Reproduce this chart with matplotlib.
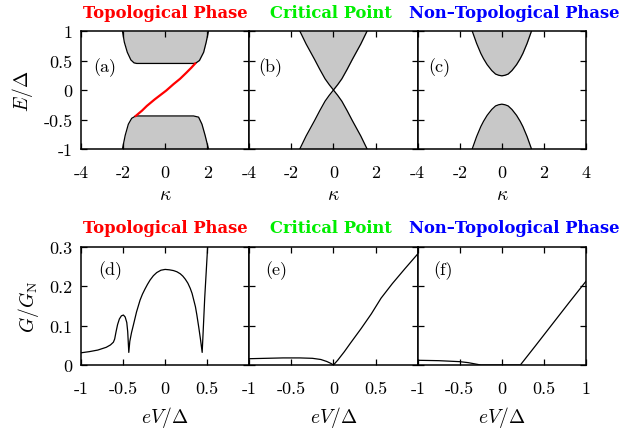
import matplotlib
matplotlib.use("Agg")
import matplotlib.pyplot as plt

plt.rcParams['font.family'] = ['cmr10', 'DejaVu Serif']
plt.rcParams['mathtext.fontset'] = 'cm'
plt.rcParams['axes.unicode_minus'] = False
plt.rcParams['axes.formatter.use_mathtext'] = True

# ---------------- data: band structures (top row) ----------------
kappa_ticks = [-4, -2, 0, 2, 4]
kappa_ticklabels = ['-4', '-2', '0', '2', '4']
E_ticks = [-1, -0.5, 0, 0.5, 1]
E_ticklabels = ['-1', '-0.5', '0', '0.5', '1']

# (a) topological phase
a_up_k = [-2.03, -1.94, -1.80, -1.63, -1.48, -1.35, 0.0, 1.43, 1.63, 1.83, 1.95, 2.06]
a_up_E = [1.00, 0.81, 0.64, 0.51, 0.46, 0.45, 0.45, 0.45, 0.50, 0.64, 0.81, 1.00]
a_lo_k = [-2.03, -1.90, -1.75, -1.59, -1.40, 0.0, 1.35, 1.59, 1.75, 1.90, 2.06]
a_lo_E = [-1.00, -0.77, -0.58, -0.48, -0.44, -0.44, -0.44, -0.46, -0.58, -0.77, -1.00]
edge_k = [-1.40, -1.10, -0.87, -0.50, 0.05, 0.40, 0.71, 1.00, 1.25, 1.43]
edge_E = [-0.44, -0.35, -0.27, -0.16, -0.01, 0.10, 0.19, 0.29, 0.38, 0.45]

# (b) critical point
b_k = [-1.60, -1.45, -1.30, -1.10, -0.90, -0.65, -0.40, -0.20, 0.0, 0.20, 0.40, 0.65, 0.90, 1.10, 1.30, 1.45, 1.60]
b_up_E = [1.00, 0.89, 0.78, 0.65, 0.52, 0.35, 0.19, 0.09, 0.0, 0.09, 0.19, 0.35, 0.52, 0.65, 0.78, 0.89, 1.00]
b_lo_E = [-1.00, -0.89, -0.78, -0.65, -0.52, -0.35, -0.19, -0.09, 0.0, -0.09, -0.19, -0.35, -0.52, -0.65, -0.78, -0.89, -1.00]

# (c) non-topological phase
c_k = [-1.41, -1.20, -1.00, -0.87, -0.70, -0.48, -0.30, -0.15, 0.0, 0.15, 0.30, 0.48, 0.70, 0.87, 1.00, 1.20, 1.41]
c_up_E = [1.00, 0.79, 0.62, 0.53, 0.43, 0.33, 0.27, 0.25, 0.24, 0.25, 0.27, 0.33, 0.43, 0.53, 0.62, 0.79, 1.00]
c_lo_E = [-1.00, -0.79, -0.62, -0.53, -0.43, -0.33, -0.27, -0.25, -0.24, -0.25, -0.27, -0.33, -0.43, -0.53, -0.62, -0.79, -1.00]

# ---------------- data: conductance (bottom row) ----------------
V_ticks = [-1, -0.5, 0, 0.5, 1]
V_ticklabels = ['-1', '-0.5', '0', '0.5', '1']
G_ticks = [0, 0.1, 0.2, 0.3]
G_ticklabels = ['0', '0.1', '0.2', '0.3']

d_V = [-1.0, -0.9, -0.8, -0.7, -0.65, -0.615, -0.60, -0.583, -0.565, -0.544, -0.52, -0.496,
       -0.475, -0.456, -0.445, -0.432, -0.42, -0.40, -0.377, -0.34, -0.298, -0.27, -0.24,
       -0.21, -0.179, -0.14, -0.10, -0.05, 0.0, 0.05, 0.10, 0.14, 0.179, 0.21, 0.24, 0.27,
       0.298, 0.32, 0.34, 0.36, 0.377, 0.40, 0.42, 0.44, 0.455, 0.47, 0.488, 0.51]
d_G = [0.031, 0.034, 0.038, 0.045, 0.051, 0.058, 0.066, 0.085, 0.103, 0.117, 0.125, 0.127,
       0.122, 0.108, 0.085, 0.032, 0.060, 0.082, 0.102, 0.135, 0.165, 0.180, 0.193,
       0.205, 0.216, 0.227, 0.235, 0.241, 0.243, 0.242, 0.240, 0.237, 0.232, 0.226, 0.218,
       0.208, 0.195, 0.182, 0.165, 0.148, 0.127, 0.095, 0.065, 0.032, 0.100, 0.170, 0.237,
       0.320]

e_V = [-1.0, -0.8, -0.6, -0.4, -0.25, -0.15, -0.08, -0.03, 0.0, 0.05, 0.13, 0.20, 0.33,
       0.45, 0.566, 0.70, 0.85, 1.0]
e_G = [0.016, 0.017, 0.018, 0.018, 0.017, 0.014, 0.009, 0.004, 0.0, 0.012, 0.034, 0.055,
       0.093, 0.130, 0.170, 0.207, 0.245, 0.282]

f_V = [-1.0, -0.75, -0.50, -0.40, -0.30, -0.25, 0.22, 0.40, 0.60, 0.80, 1.0]
f_G = [0.012, 0.011, 0.0085, 0.006, 0.002, 0.0, 0.0, 0.049, 0.104, 0.159, 0.213]

titles = ['Topological Phase', 'Critical Point', 'Non\u2013Topological Phase']
title_colors = ['#ff0000', '#00ee00', '#0000ff']
panel_top = ['(a)', '(b)', '(c)']
panel_bot = ['(d)', '(e)', '(f)']

# ---------------- layout ----------------
W, H = 628, 435
fig = plt.figure(figsize=(W / 100, H / 100), dpi=100)

lefts = [81, 249.3, 417.7]
aw = 168.3
top_y0, top_h = 150, 118
bot_y0, bot_h = 366, 118

gray = '#c8c8c8'
lw = 0.9

def style(ax):
    for s in ax.spines.values():
        s.set_linewidth(1.1)
    ax.tick_params(direction='in', top=True, right=True, length=4, width=0.9,
                   labelsize=13)

top_axes, bot_axes = [], []
for i in range(3):
    ax = fig.add_axes([lefts[i] / W, 1 - top_y0 / H, aw / W, top_h / H])
    top_axes.append(ax)
    ax2 = fig.add_axes([lefts[i] / W, 1 - bot_y0 / H, aw / W, bot_h / H])
    bot_axes.append(ax2)

# top row
ax = top_axes[0]
ax.fill_between(a_up_k, a_up_E, 1.0, color=gray, lw=0)
ax.plot(a_up_k, a_up_E, color='k', lw=lw)
ax.fill_between(a_lo_k, -1.0, a_lo_E, color=gray, lw=0)
ax.plot(a_lo_k, a_lo_E, color='k', lw=lw)
ax.plot(edge_k, edge_E, color='#ff0000', lw=1.6)

ax = top_axes[1]
ax.fill_between(b_k, b_up_E, 1.0, color=gray, lw=0)
ax.plot(b_k, b_up_E, color='k', lw=lw)
ax.fill_between(b_k, -1.0, b_lo_E, color=gray, lw=0)
ax.plot(b_k, b_lo_E, color='k', lw=lw)

ax = top_axes[2]
ax.fill_between(c_k, c_up_E, 1.0, color=gray, lw=0)
ax.plot(c_k, c_up_E, color='k', lw=lw)
ax.fill_between(c_k, -1.0, c_lo_E, color=gray, lw=0)
ax.plot(c_k, c_lo_E, color='k', lw=lw)

for i, ax in enumerate(top_axes):
    ax.set_xlim(-4, 4)
    ax.set_ylim(-1, 1)
    style(ax)
    ax.set_xticks(kappa_ticks)
    labs = list(kappa_ticklabels)
    if i < 2:
        labs[-1] = ''
    ax.set_xticklabels(labs)
    ax.set_yticks(E_ticks)
    if i == 0:
        ax.set_yticklabels(E_ticklabels)
        ax.set_ylabel(r'$E/\Delta$', fontsize=14, labelpad=6)
    else:
        ax.set_yticklabels([])
    ax.tick_params(axis='x', pad=11)
    ax.tick_params(axis='y', pad=6)
    ax.set_xlabel(r'$\kappa$', fontsize=14, labelpad=4)
    ax.text([0.07, 0.055, 0.065][i], 0.70, panel_top[i], transform=ax.transAxes,
            fontsize=13, va='center', ha='left')

# bottom row
for i, (V, G) in enumerate([(d_V, d_G), (e_V, e_G), (f_V, f_G)]):
    ax = bot_axes[i]
    ax.plot(V, G, color='k', lw=lw, clip_on=True)
    ax.set_xlim(-1, 1)
    ax.set_ylim(0, 0.3)
    style(ax)
    ax.set_xticks(V_ticks)
    labs = list(V_ticklabels)
    if i < 2:
        labs[-1] = ''
    ax.set_xticklabels(labs)
    ax.set_yticks(G_ticks)
    if i == 0:
        ax.set_yticklabels(G_ticklabels)
        ax.set_ylabel(r'$G/G_{\rm N}$', fontsize=14, labelpad=6)
    else:
        ax.set_yticklabels([])
    ax.tick_params(axis='x', pad=11)
    ax.tick_params(axis='y', pad=6)
    ax.set_xlabel(r'$eV/\Delta$', fontsize=14, labelpad=6)
    ax.text([0.10, 0.095, 0.095][i], 0.81, panel_bot[i], transform=ax.transAxes,
            fontsize=13, va='center', ha='left')

# titles
title_x = [83, 270, 409]
for j, yb in enumerate([18, 233]):
    for i in range(3):
        fig.text(title_x[i] / W, 1 - yb / H, titles[i], color=title_colors[i],
                 fontsize=11.8, family=['DejaVu Serif'], fontweight='bold',
                 ha='left', va='baseline')

fig.savefig('out.png', dpi=100)
